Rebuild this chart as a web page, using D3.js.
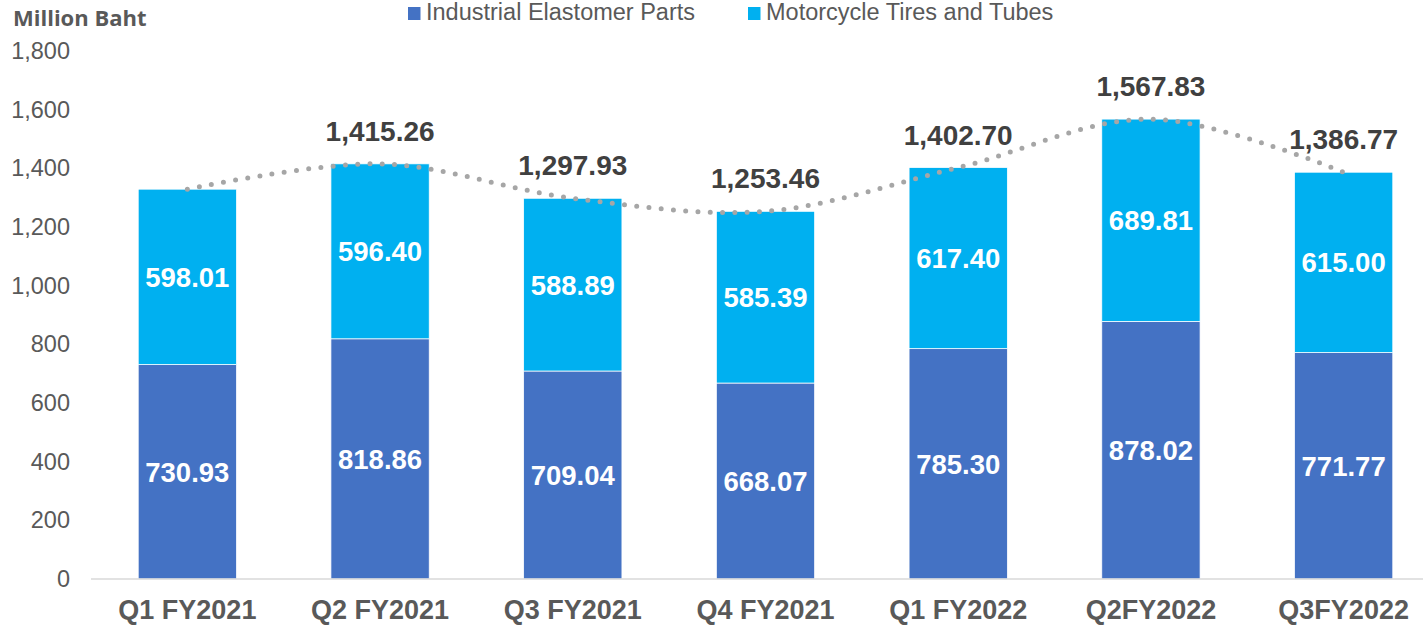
<!DOCTYPE html>
<html>
<head>
<meta charset="utf-8">
<script src="https://cdn.jsdelivr.net/npm/d3@7"></script>
<style>
body { margin: 0; background: #fff; }
text { font-family: "Liberation Sans", Arial, sans-serif; }
</style>
</head>
<body>
<div id="container"></div>
<script>
var quarters = ["Q1 FY2021", "Q2 FY2021", "Q3 FY2021", "Q4 FY2021", "Q1 FY2022", "Q2FY2022", "Q3FY2022"];
var elastomer = [730.93, 818.86, 709.04, 668.07, 785.30, 878.02, 771.77];
var tires = [598.01, 596.40, 588.89, 585.39, 617.40, 689.81, 615.00];
var totalLabels = [null, "1,415.26", "1,297.93", "1,253.46", "1,402.70", "1,567.83", "1,386.77"];
var yTicks = [0, 200, 400, 600, 800, 1000, 1200, 1400, 1600, 1800];

var width = 1423, height = 627;
var blue = "#4472C4", cyan = "#00B0F0", grey = "#595959";

var svg = d3.select("#container").append("svg")
	.attr("width", width)
	.attr("height", height);

var x = d3.scaleBand().domain(quarters).range([91, 1440]).paddingInner(0.49).paddingOuter(0.245);
var y = d3.scaleLinear().domain([0, 1800]).range([579, 51]);

// y axis labels
var yAxis = d3.axisLeft(y).tickValues(yTicks).tickSize(0).tickPadding(0).tickFormat(d3.format(","));
svg.append("g")
	.attr("transform", "translate(70,0)")
	.call(yAxis)
	.call(function(g){ g.select(".domain").remove(); })
	.selectAll("text")
	.attr("font-size", 23.5)
	.attr("fill", grey)
	.attr("font-family", "Liberation Sans, Arial, sans-serif");

// bars
var rows = quarters.map(function(q, i){
	return {q: q, a: elastomer[i], b: tires[i], t: elastomer[i] + tires[i], label: totalLabels[i]};
});

svg.selectAll(".barA").data(rows).enter().append("rect")
	.attr("x", function(d){ return x(d.q); })
	.attr("width", x.bandwidth())
	.attr("y", function(d){ return y(d.a); })
	.attr("height", function(d){ return y(0) - y(d.a); })
	.attr("fill", blue)
	.attr("stroke", "#fff").attr("stroke-width", 0.75);

svg.selectAll(".barB").data(rows).enter().append("rect")
	.attr("x", function(d){ return x(d.q); })
	.attr("width", x.bandwidth())
	.attr("y", function(d){ return y(d.t); })
	.attr("height", function(d){ return y(d.a) - y(d.t); })
	.attr("fill", cyan)
	.attr("stroke", "#fff").attr("stroke-width", 0.75);

// baseline
svg.append("line")
	.attr("x1", 91).attr("x2", width)
	.attr("y1", y(0)).attr("y2", y(0))
	.attr("stroke", "#d9d9d9").attr("stroke-width", 1.5);

// x axis labels
var xAxis = d3.axisBottom(x).tickSize(0).tickPadding(0);
svg.append("g")
	.attr("transform", "translate(0,600)")
	.call(xAxis)
	.call(function(g){ g.select(".domain").remove(); })
	.selectAll("text")
	.attr("font-size", 27)
	.attr("font-weight", "bold")
	.attr("fill", grey)
	.attr("font-family", "Liberation Sans, Arial, sans-serif");

// segment labels
var cx = function(d){ return x(d.q) + x.bandwidth() / 2; };
svg.selectAll(".labA").data(rows).enter().append("text")
	.attr("x", cx)
	.attr("y", function(d){ return (y(0) + y(d.a)) / 2 + 10; })
	.attr("text-anchor", "middle")
	.attr("font-size", 27.5).attr("font-weight", "bold").attr("fill", "#fff")
	.text(function(d){ return d3.format(".2f")(d.a); });

svg.selectAll(".labB").data(rows).enter().append("text")
	.attr("x", cx)
	.attr("y", function(d){ return (y(d.a) + y(d.t)) / 2 + 10; })
	.attr("text-anchor", "middle")
	.attr("font-size", 27.5).attr("font-weight", "bold").attr("fill", "#fff")
	.text(function(d){ return d3.format(".2f")(d.b); });

// dotted total line
var line = d3.line()
	.x(cx)
	.y(function(d){ return y(d.t); })
	.curve(d3.curveCatmullRom.alpha(0.5));
svg.append("path")
	.attr("d", line(rows))
	.attr("fill", "none")
	.attr("stroke", "#A6A6A6")
	.attr("stroke-width", 5)
	.attr("stroke-linecap", "round")
	.attr("stroke-dasharray", "0 12.3");

// total labels
svg.selectAll(".tot").data(rows.filter(function(d){ return d.label; })).enter().append("text")
	.attr("x", cx)
	.attr("y", function(d){ return y(d.t) - 23; })
	.attr("text-anchor", "middle")
	.attr("font-size", 28).attr("font-weight", "bold").attr("fill", "#404040")
	.text(function(d){ return d.label; });

// unit title
svg.append("text")
	.attr("x", 13).attr("y", 26)
	.attr("font-size", 22).attr("font-weight", "bold").attr("fill", grey)
	.style("font-family", "'Open Sans', sans-serif")
	.text("Million Baht");

// legend
var legend = [{name: "Industrial Elastomer Parts", color: blue, x: 408}, {name: "Motorcycle Tires and Tubes", color: cyan, x: 748}];
var lg = svg.selectAll(".lg").data(legend).enter().append("g")
	.attr("transform", function(d){ return "translate(" + d.x + ",0)"; });
lg.append("rect").attr("x", 0).attr("y", 7).attr("width", 12.5).attr("height", 13).attr("fill", function(d){ return d.color; });
lg.append("text").attr("x", 18).attr("y", 20)
	.attr("font-size", 23.5).attr("fill", grey)
	.text(function(d){ return d.name; });
</script>
</body>
</html>
